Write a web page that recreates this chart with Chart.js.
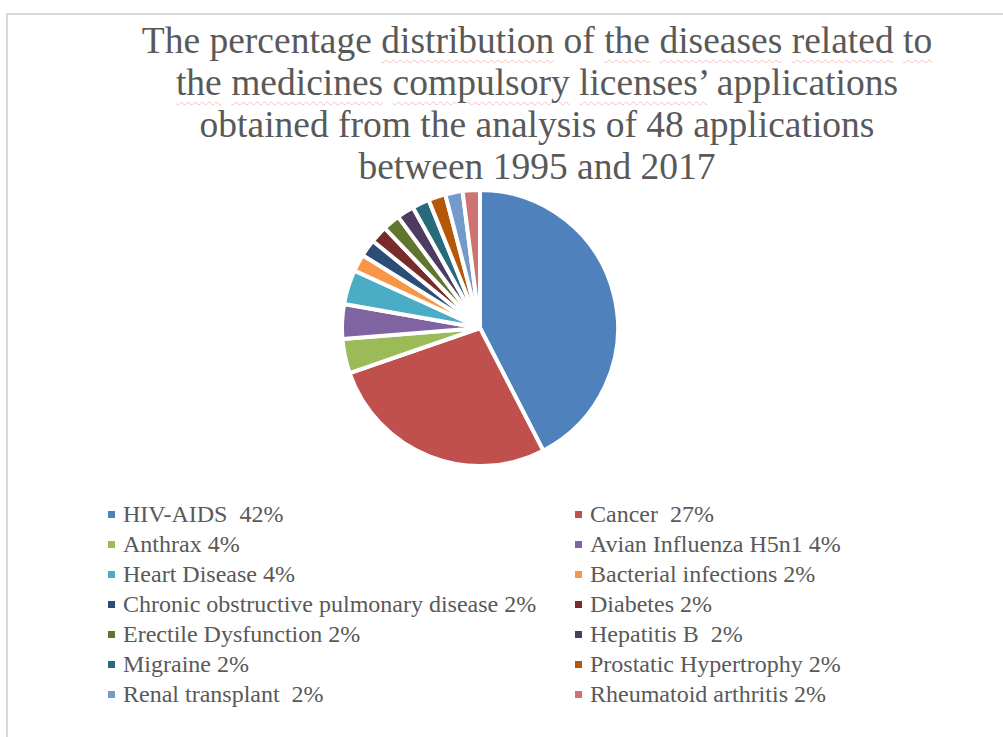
<!DOCTYPE html>
<html>
<head>
<meta charset="utf-8">
<title>Compulsory licenses by disease</title>
<script src="https://cdn.jsdelivr.net/npm/chart.js@4.4.0/dist/chart.umd.min.js"></script>
<style>
  html, body { margin: 0; padding: 0; background: #fff; }
  body { width: 1003px; height: 737px; position: relative; overflow: hidden; font-family: "Liberation Serif", "Times New Roman", serif; }
  .frame { position: absolute; left: 6px; top: 13px; width: 1010px; height: 740px; border-left: 2px solid #d9d9d9; border-top: 2px solid #d9d9d9; }
  #title { position: absolute; left: 0; top: 20px; width: 1074px; text-align: center; font-size: 37.5px; line-height: 42px; color: #595959; }
  #title .sp { text-decoration: underline wavy #f5c0c0; text-decoration-thickness: 1px; text-underline-offset: 6px; }
  #pieBox { position: absolute; left: 340px; top: 188px; width: 280px; height: 280px; }
  #legend { position: absolute; left: 108px; top: 500px; width: 800px; }
  .item { position: absolute; font-size: 24px; color: #595959; white-space: pre; line-height: 28px; }
  .item i { display: inline-block; width: 7px; height: 7px; margin-right: 8px; vertical-align: 4px; }
</style>
</head>
<body>
<div class="frame"></div>
<div id="title">The percentage <span class="sp">distribution</span> of <span class="sp">the</span> <span class="sp">diseases</span> <span class="sp">related</span> <span class="sp">to</span><br><span class="sp">the</span> <span class="sp">medicines</span> <span class="sp">compulsory</span> <span class="sp">licenses’</span> applications<br>obtained from the analysis of 48 applications<br>between 1995 and 2017</div>
<div id="pieBox"><canvas id="pie"></canvas></div>
<div id="legend"></div>
<script>
const diseases = ['HIV-AIDS ', 'Cancer ', 'Anthrax', 'Avian Influenza H5n1', 'Heart Disease', 'Bacterial infections',
  'Chronic obstructive pulmonary disease', 'Diabetes', 'Erectile Dysfunction', 'Hepatitis B ', 'Migraine',
  'Prostatic Hypertrophy', 'Renal transplant ', 'Rheumatoid arthritis'];
const percents = [42, 27, 4, 4, 4, 2, 2, 2, 2, 2, 2, 2, 2, 2];
const colors = ['#4f81bd', '#c0504d', '#9bbb59', '#8064a2', '#4bacc6', '#f79646', '#2c4d75',
  '#772c2a', '#5f7530', '#4d3b62', '#276a7c', '#b65708', '#729aca', '#cd7371'];

// legend in two columns, rows go left then right
const legend = document.getElementById('legend');
diseases.forEach((name, i) => {
  const el = document.createElement('div');
  el.className = 'item';
  el.style.left = (i % 2 === 0 ? 0 : 467) + 'px';
  el.style.top = (Math.floor(i / 2) * 30) + 'px';
  el.innerHTML = '<i style="background:' + colors[i] + '"></i>' + name + ' ' + percents[i] + '%';
  legend.appendChild(el);
});

const ctx = document.getElementById('pie');
new Chart(ctx, {
  type: 'pie',
  data: {
    labels: diseases,
    datasets: [{
      data: percents,
      backgroundColor: colors,
      borderColor: '#ffffff',
      borderWidth: 4
    }]
  },
  options: {
    responsive: true,
    maintainAspectRatio: false,
    animation: false,
    plugins: {
      legend: { display: false },
      tooltip: { enabled: false }
    }
  }
});
</script>
</body>
</html>
